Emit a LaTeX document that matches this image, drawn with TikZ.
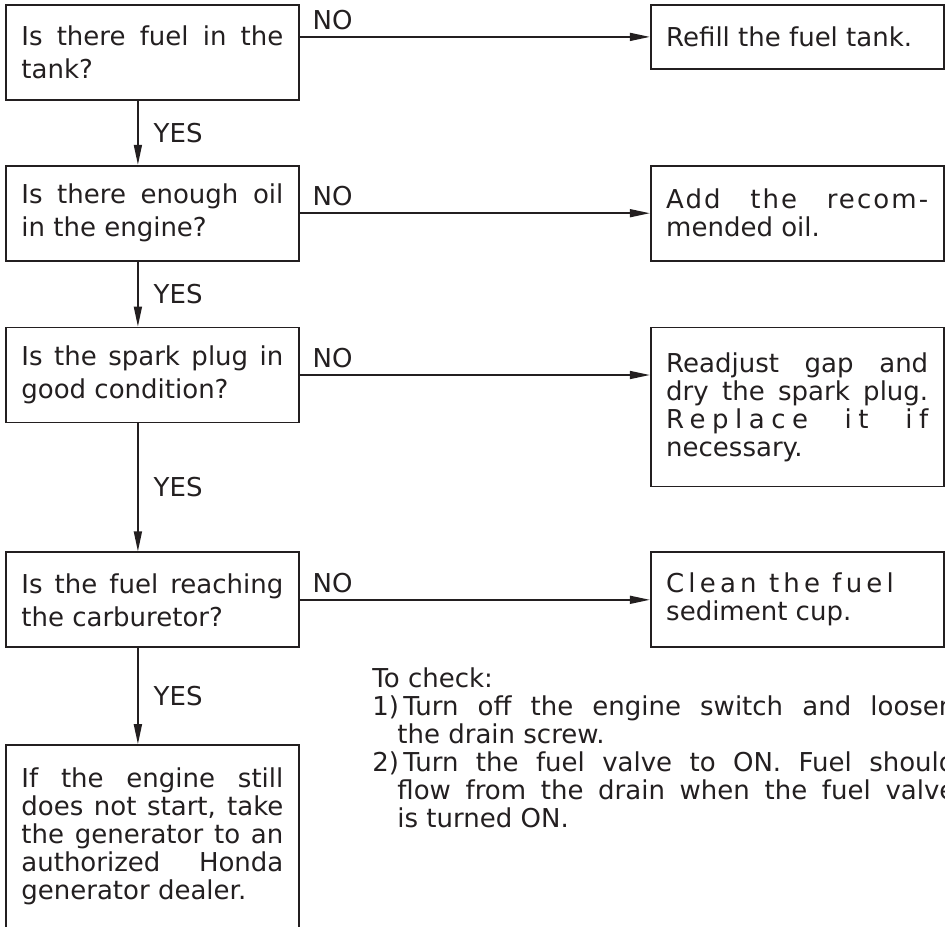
\documentclass[tikz,border=0pt]{standalone}
\usepackage{fontspec}
\setmainfont{DejaVu Sans}
\usepackage{xcolor}
\usepackage{tikz}
\usetikzlibrary{arrows.meta, positioning}
\definecolor{Ink}{RGB}{35, 31, 32}
\newcommand{\spreadout}[2]{{\addfontfeature{LetterSpace=#1}#2}}
\newcommand{\stepitem}[1]{\par\hangindent=12.5pt\hangafter=1\relax #1)\,}
\tolerance=10000

\begin{document}
\begin{tikzpicture}[
    x=0.5pt, y=-0.5pt,
    ask/.style={draw=Ink, text=Ink, line width=0.9pt, text width=131pt,
                inner xsep=7.75pt, inner ysep=4pt, minimum height=47.5pt,
                align=justify, font=\fontsize{13pt}{16.5pt}\selectfont},
    fix/.style={ask, font=\fontsize{13pt}{14pt}\selectfont},
    note/.style={text=Ink, text width=291.5pt, inner sep=0pt, align=justify,
                 font=\fontsize{13pt}{14pt}\selectfont},
    arr/.style={-{Triangle[length=10pt, width=4pt]}, line width=0.8pt, Ink},
    lbl/.style={text=Ink, inner sep=0pt, font=\fontsize{13pt}{14pt}\selectfont}
    ]
    \useasboundingbox (0,0) rectangle (945,926);

    % questions
    \node[ask, anchor=north west] (q1) at (5,4) {Is there fuel in the\linebreak tank?};
    \node[ask, below=32pt of q1] (q2) {Is there enough oil\linebreak in the engine?};
    \node[ask, below=32.5pt of q2] (q3) {Is the spark plug in\linebreak good condition?};
    \node[ask, below=64pt of q3] (q4) {Is the fuel reaching\linebreak the carburetor?};
    \node[fix, below=48pt of q4, minimum height=0pt, inner ysep=11.5pt] (q5)
          {If the engine still\linebreak does not start, take\linebreak the generator to an\linebreak
           authorized Honda\linebreak generator dealer.\par\vspace*{20pt}};

    % remedies
    \node[fix, right=175pt of q1.north east, anchor=north west, minimum height=32pt] (r1)
          {Refill the fuel tank.};
    \node[fix, right=175pt of q2.north east, anchor=north west] (r2)
          {\spreadout{8}{Add the recom-}\linebreak mended oil.};
    \node[fix, right=175pt of q3.north east, anchor=north west, minimum height=79.5pt] (r3)
          {Readjust gap and\linebreak dry the spark plug.\linebreak
           \spreadout{25}{Replace it if}\linebreak necessary.};
    \node[fix, right=175pt of q4.north east, anchor=north west] (r4)
          {\spreadout{16}{Clean the fuel}\\ sediment cup.};

    \node[note, anchor=north west] (chk) at (372,667) {%
      \setlength{\parindent}{0pt}To check:
      \stepitem{1}Turn off the engine switch and loosen\linebreak the drain screw.
      \stepitem{2}Turn the fuel valve to ON. Fuel should\linebreak flow from the drain when the fuel valve\linebreak is turned ON.\par};

    \foreach \a/\b in {q1/q2, q2/q3, q3/q4, q4/q5}
      \draw[arr] ([xshift=-7.25pt]\a.south) -- node[lbl, right=7.5pt] {YES} ([xshift=-7.25pt]\b.north);

    \draw[arr] (r1.west -| q1.east) -- node[lbl, pos=0, above right=3.25pt and 6pt] {NO} (r1.west);
    \foreach \a/\b in {q2/r2, q3/r3, q4/r4}
      \draw[arr] (\a.east) -- node[lbl, pos=0, above right=3.25pt and 6pt] {NO} (\a.east -| \b.west);
\end{tikzpicture}
\end{document}
